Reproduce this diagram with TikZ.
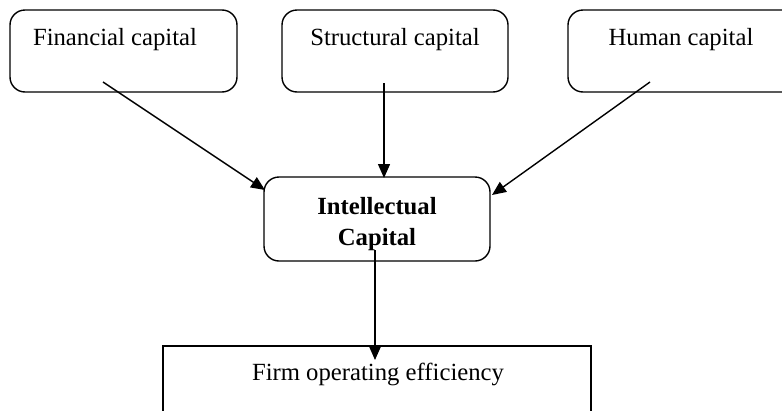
\documentclass[tikz,border=0pt]{standalone}
\usepackage{fontspec}
\setmainfont{Liberation Serif}
\usetikzlibrary{arrows.meta}
\begin{document}
\begin{tikzpicture}[x=1pt,y=-1pt,
  rbox/.style={draw,line width=1.4pt,rounded corners=15pt,inner sep=0pt},
  sbox/.style={draw,line width=1.4pt,inner sep=0pt},
  lbl/.style={anchor=base,inner sep=0pt,font=\fontsize{24.7}{31}\selectfont},
  conn/.style={line width=1.4pt,-{Triangle[length=14pt,width=12pt]}}]
\useasboundingbox (0,0) rectangle (782,410);
\clip (0,0) rectangle (782,410);
% boxes
\draw[rbox] (10,10) rectangle (237,92);
\draw[rbox] (282,10) rectangle (508,92);
\draw[rbox] (568,10) rectangle (820,92);
\draw[rbox] (264,177) rectangle (490,261);
\draw[sbox] (163,346) rectangle (591,440);
% labels
\node[lbl] (fin) at (115,45) {Financial capital};
\node[lbl] (str) at (395,45) {Structural capital};
\node[lbl] (hum) at (681,45) {Human capital};
\node[lbl] (ic1) at (377,214) {\bfseries Intellectual};
\node[lbl] (ic2) at (377,245) {\bfseries Capital};
\node[lbl] (firm) at (378,380) {Firm operating efficiency};
% connector end points
\coordinate (finA) at (103,82);
\coordinate (icL) at (265,190);
\coordinate (strA) at (384,83);
\coordinate (icT) at (384,178);
\coordinate (humA) at (650,82);
\coordinate (icR) at (492,195);
\coordinate (icB) at (375,250);
\coordinate (firmT) at (375,360);
% connectors
\draw[conn] (finA) -- (icL);
\draw[conn] (strA) -- (icT);
\draw[conn] (humA) -- (icR);
\draw[conn] (icB) -- (firmT);
\end{tikzpicture}
\end{document}
